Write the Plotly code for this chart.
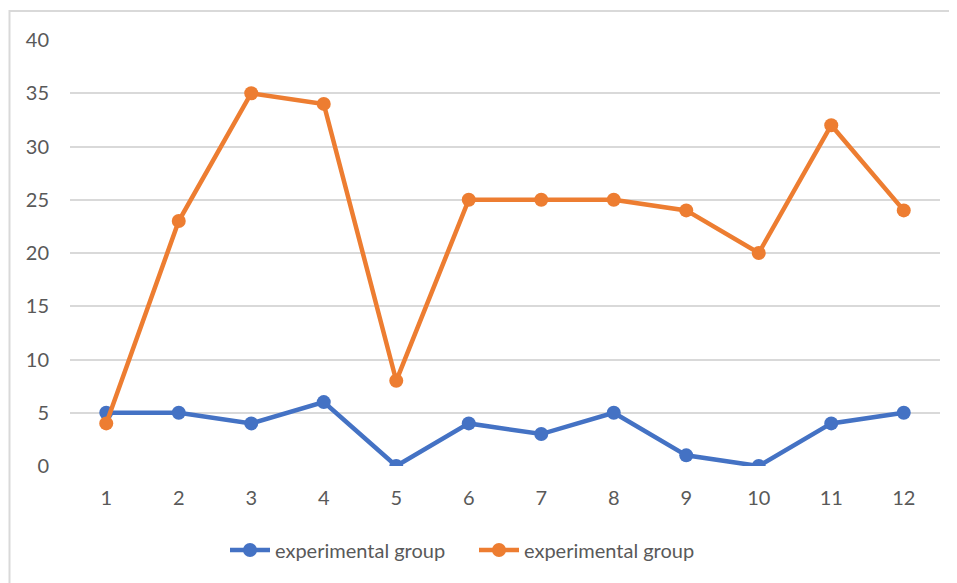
import plotly.graph_objects as go

categories = ["1", "2", "3", "4", "5", "6", "7", "8", "9", "10", "11", "12"]
series_a_name = "experimental group"
series_a = [5, 5, 4, 6, 0, 4, 3, 5, 1, 0, 4, 5]
series_b_name = "experimental group"
series_b = [4, 23, 35, 34, 8, 25, 25, 25, 24, 20, 32, 24]
y_ticks = [0, 5, 10, 15, 20, 25, 30, 35, 40]

OFF = 8  # page body margin
W, H = 957 - OFF, 583 - OFF
# target plot area in page pixels: x 70..940, y 40..466
L, T = 70 - OFF, 40 - OFF
R = W - (940 - OFF)
B = H - (466 - OFF)
pw, ph = W - L - R, H - T - B

def px2x(px):
    return (px - 70) / pw

def px2y(py):
    return (466 - py) / ph

font = "Lato, 'Open Sans', sans-serif"
gray = "#595959"

fig = go.Figure()
fig.add_trace(go.Scatter(x=categories, y=series_a, name=series_a_name, mode="lines+markers",
                         line=dict(color="#4472C4", width=4.5), marker=dict(size=14, color="#4472C4")))
fig.add_trace(go.Scatter(x=categories, y=series_b, name=series_b_name, mode="lines+markers",
                         line=dict(color="#ED7D31", width=4.5), marker=dict(size=14, color="#ED7D31")))

fig.update_layout(
    width=W, height=H,
    margin=dict(l=L, r=R, t=T, b=B),
    paper_bgcolor="white", plot_bgcolor="white",
    font=dict(family=font, size=20, color=gray),
    showlegend=True,
    legend=dict(orientation="h", x=px2x(474), xanchor="center", y=px2y(550), yanchor="middle",
                font=dict(size=20, color=gray), itemwidth=40, entrywidth=194,
                traceorder="normal"),
    xaxis=dict(type="category", range=[-0.5, 11.5], showgrid=False, zeroline=False,
               showline=False, ticks="", ticklabelstandoff=18, tickfont=dict(size=20, color=gray)),
    yaxis=dict(range=[0, 40], tickvals=y_ticks, showgrid=True, gridcolor="#d9d9d9", gridwidth=1.5,
               zeroline=False, showline=False, ticks="", ticklabelstandoff=20,
               tickfont=dict(size=20, color=gray)),
    shapes=[dict(type="rect", xref="paper", yref="paper",
                 x0=px2x(9.5), x1=px2x(990), y0=px2y(600), y1=px2y(11),
                 line=dict(color="#d9d9d9", width=2), fillcolor="rgba(0,0,0,0)", layer="below")],
)
fig.write_html("out.html")
